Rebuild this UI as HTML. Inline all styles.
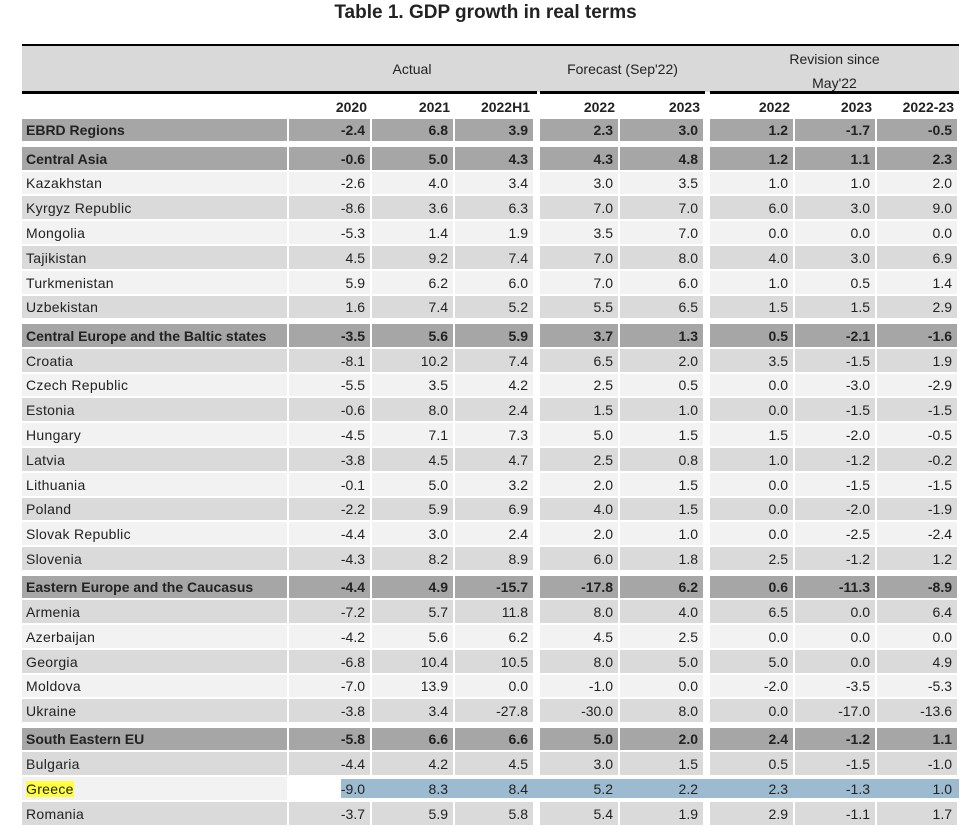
<!DOCTYPE html>
<html><head><meta charset="utf-8"><style>
body{margin:0;width:971px;height:834px;background:#fff;position:relative;overflow:hidden;font-family:"Liberation Sans",Arial,sans-serif;color:#222}
.a{position:absolute;box-sizing:border-box}
.c{font-size:14px;line-height:1;display:flex;align-items:center;justify-content:flex-end;padding-right:5px}
.l{font-size:14px;display:flex;align-items:center;padding-left:4px;letter-spacing:0.3px}
.b{font-weight:bold;letter-spacing:0}
</style></head><body>
<div class="a" style="left:0;width:971px;top:2px;text-align:center;font-weight:bold;font-size:19px">Table 1. GDP growth in real terms</div>
<div class="a" style="left:22px;top:44px;width:937px;height:48px;background:#d9d9d9;border-top:2px solid #000"></div>
<div class="a" style="left:289px;width:246px;top:61px;text-align:center;font-size:14px">Actual</div>
<div class="a" style="left:540px;width:165px;top:61px;text-align:center;font-size:14px">Forecast (Sep'22)</div>
<div class="a" style="left:710px;width:249px;top:47px;text-align:center;font-size:14px;line-height:24px">Revision since<br>May'22</div>
<div class="a" style="left:22px;top:91px;width:515px;height:3px;background:#000"></div>
<div class="a" style="left:540px;top:91px;width:165px;height:3px;background:#000"></div>
<div class="a" style="left:710px;top:91px;width:249px;height:3px;background:#000"></div>
<div id="t"></div>
<script>
const years=["2020","2021","2022H1","2022","2023","2022","2023","2022-23"];
const countries=["EBRD Regions","Central Asia","Kazakhstan","Kyrgyz Republic","Mongolia","Tajikistan","Turkmenistan","Uzbekistan","Central Europe and the Baltic states","Croatia","Czech Republic","Estonia","Hungary","Latvia","Lithuania","Poland","Slovak Republic","Slovenia","Eastern Europe and the Caucasus","Armenia","Azerbaijan","Georgia","Moldova","Ukraine","South Eastern EU","Bulgaria","Greece","Romania"];
const groups=[1,1,0,0,0,0,0,0,1,0,0,0,0,0,0,0,0,0,1,0,0,0,0,0,1,0,0,0];
const values=[
["-2.4","6.8","3.9","2.3","3.0","1.2","-1.7","-0.5"],
["-0.6","5.0","4.3","4.3","4.8","1.2","1.1","2.3"],
["-2.6","4.0","3.4","3.0","3.5","1.0","1.0","2.0"],
["-8.6","3.6","6.3","7.0","7.0","6.0","3.0","9.0"],
["-5.3","1.4","1.9","3.5","7.0","0.0","0.0","0.0"],
["4.5","9.2","7.4","7.0","8.0","4.0","3.0","6.9"],
["5.9","6.2","6.0","7.0","6.0","1.0","0.5","1.4"],
["1.6","7.4","5.2","5.5","6.5","1.5","1.5","2.9"],
["-3.5","5.6","5.9","3.7","1.3","0.5","-2.1","-1.6"],
["-8.1","10.2","7.4","6.5","2.0","3.5","-1.5","1.9"],
["-5.5","3.5","4.2","2.5","0.5","0.0","-3.0","-2.9"],
["-0.6","8.0","2.4","1.5","1.0","0.0","-1.5","-1.5"],
["-4.5","7.1","7.3","5.0","1.5","1.5","-2.0","-0.5"],
["-3.8","4.5","4.7","2.5","0.8","1.0","-1.2","-0.2"],
["-0.1","5.0","3.2","2.0","1.5","0.0","-1.5","-1.5"],
["-2.2","5.9","6.9","4.0","1.5","0.0","-2.0","-1.9"],
["-4.4","3.0","2.4","2.0","1.0","0.0","-2.5","-2.4"],
["-4.3","8.2","8.9","6.0","1.8","2.5","-1.2","1.2"],
["-4.4","4.9","-15.7","-17.8","6.2","0.6","-11.3","-8.9"],
["-7.2","5.7","11.8","8.0","4.0","6.5","0.0","6.4"],
["-4.2","5.6","6.2","4.5","2.5","0.0","0.0","0.0"],
["-6.8","10.4","10.5","8.0","5.0","5.0","0.0","4.9"],
["-7.0","13.9","0.0","-1.0","0.0","-2.0","-3.5","-5.3"],
["-3.8","3.4","-27.8","-30.0","8.0","0.0","-17.0","-13.6"],
["-5.8","6.6","6.6","5.0","2.0","2.4","-1.2","1.1"],
["-4.4","4.2","4.5","3.0","1.5","0.5","-1.5","-1.0"],
["-9.0","8.3","8.4","5.2","2.2","2.3","-1.3","1.0"],
["-3.7","5.9","5.8","5.4","1.9","2.9","-1.1","1.7"]];
const colL=[289,372,455,540,620,710,795,877], colR=[372,455,535,620,705,795,877,959];
const t=document.getElementById('t');
function mk(cls,x,y,w,h,bg,txt){const d=document.createElement('div');d.className='a '+cls;d.style.cssText=`left:${x}px;top:${y}px;width:${w}px;height:${h}px;background:${bg}`;d.textContent=txt;t.appendChild(d);return d;}
years.forEach((yv,i)=>{const d=mk('c b',colL[i],95,colR[i]-colL[i],23,'transparent',yv);

});
let y=119,alt=0;
countries.forEach((n,r)=>{
 const g=groups[r];
 if(g&&r>0)y+=4;
 const h=g?24.3:24.8;
 const top=Math.round(y),hh=Math.round(y+h)-top-2;
 if(g)alt=(r===1)?0:1;
 let bg=g?'#a6a6a6':(alt%2?'#dadada':'#f2f2f2');
 if(!g)alt++;
 const isG=n==='Greece';
 const lab=mk('l'+(g?' b':''),22,top,265,hh,bg,'');
 
 
 const sp=document.createElement('span');sp.textContent=n;if(isG)sp.style.background='#ffff40';lab.appendChild(sp);
 if(isG){const bl=mk('',341,top+2,618,hh-4,'#9dbbd0','');
 
 }
 values[r].forEach((v,i)=>{const d=mk('c'+(g?' b':''),colL[i],top,colR[i]-colL[i]-2,hh,isG?'transparent':bg,v);
 
 });
 y+=h;
});
</script>
</body></html>
